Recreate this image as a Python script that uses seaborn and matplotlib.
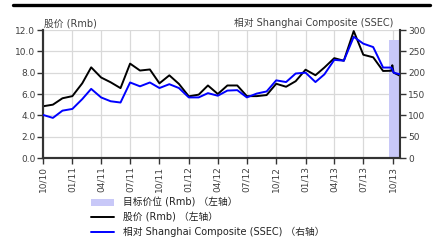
import matplotlib
matplotlib.use("Agg")
import matplotlib.pyplot as plt
import matplotlib.dates as mdates
from matplotlib.patches import Patch
from matplotlib.lines import Line2D
import seaborn as sns
import pandas as pd

# ---- data ----
monthly_dates = list(pd.date_range("2010-10-01", "2013-09-01", freq="MS").strftime("%Y-%m-%d"))
tail_dates = ["2013-09-27", "2013-09-30", "2013-10-04", "2013-10-25"]
dates = monthly_dates + tail_dates

share_price = [4.85, 5.0, 5.6, 5.8, 7.0, 8.5, 7.55, 7.1, 6.55, 8.85, 8.2, 8.3,
               7.0, 7.75, 6.95, 5.78, 5.94, 6.8, 6.0, 6.8, 6.8, 5.8, 5.8, 5.9,
               6.96, 6.68, 7.2, 8.28, 7.76, 8.48, 9.36, 9.12, 11.9, 9.68, 9.44, 8.16,
               8.18, 8.7, 8.0, 7.7]
rel_ssec = [101, 94, 111, 115, 138, 162, 142, 133, 130, 177, 168, 177,
            164, 173, 164, 142, 142, 152, 146, 158, 159, 142, 151, 156,
            182, 178, 198, 200, 178, 196, 230, 228, 284, 268, 260, 212,
            212, 208, 200, 196]

target_dates = ["2013-09-20", "2013-10-25"]
target_price = [11.05, 11.05]

left_ticks = [0.0, 2.0, 4.0, 6.0, 8.0, 10.0, 12.0]
right_ticks = [0, 50, 100, 150, 200, 250, 300]

left_title = "股价 (Rmb)"
right_title = "相对 Shanghai Composite (SSEC)"
legend_labels = ["目标价位 (Rmb) （左轴）", "股价 (Rmb) （左轴）",
                 "相对 Shanghai Composite (SSEC) （右轴）"]

# ---- style ----
sns.set_style("white")
plt.rcParams["font.family"] = ["DejaVu Sans", "Noto Sans CJK SC"]

TXT = "#404040"
SPINE = "#333333"
GRID = "#d9d9d9"
BLUE = "#0000ff"
LAV = "#c8c8f8"

df = pd.DataFrame({"date": pd.to_datetime(dates), "price": share_price, "rel": rel_ssec})

fig = plt.figure(figsize=(4.42, 2.44), dpi=100)
ax = fig.add_axes([43 / 442, 1 - 158 / 244, (400.3 - 43) / 442, 128 / 244])
ax2 = ax.twinx()

td = pd.to_datetime(target_dates)
ax.fill_between(td, 0, target_price, color=LAV, linewidth=0, zorder=1)

sns.lineplot(data=df, x="date", y="price", ax=ax, color="black", linewidth=1.4, zorder=3)
sns.lineplot(data=df, x="date", y="rel", ax=ax2, color=BLUE, linewidth=1.4, zorder=3)

xmin, xmax = pd.Timestamp("2010-10-01"), pd.Timestamp("2013-10-25")
ax.set_xlim(xmin, xmax)
ax.set_ylim(0, 12)
ax2.set_ylim(0, 300)
ax.set_yticks(left_ticks)
ax.set_yticklabels([f"{v:.1f}" for v in left_ticks])
ax2.set_yticks(right_ticks)
ax2.set_yticklabels([str(v) for v in right_ticks])

xt = pd.date_range("2010-10-01", "2013-10-01", freq="3MS")
ax.set_xticks(xt)
ax.set_xticklabels([d.strftime("%m/%y") for d in xt], rotation=90)

ax.set_xlabel("")
ax.set_ylabel("")
ax2.set_xlabel("")
ax2.set_ylabel("")

ax.grid(True, color=GRID, linewidth=0.9, zorder=0)
ax.set_axisbelow(True)
ax2.grid(False)

for a in (ax, ax2):
    a.spines["top"].set_visible(False)
    for s in ("left", "right", "bottom"):
        a.spines[s].set_color(SPINE)
        a.spines[s].set_linewidth(1.5)
ax.spines["right"].set_visible(False)

ax.tick_params(axis="y", direction="out", length=4, width=1, color=SPINE,
               labelsize=6.5, labelcolor=TXT, pad=1.5, left=True)
ax.tick_params(axis="x", direction="out", length=4, width=1, color=SPINE,
               labelsize=6.5, labelcolor=TXT, pad=2, bottom=True)
ax2.tick_params(axis="y", direction="out", length=4, width=1, color=SPINE,
                labelsize=6.5, labelcolor=TXT, pad=1.5, right=True)

fig.text(44 / 442, 1 - 28 / 244, left_title, fontsize=7, color=TXT, ha="left", va="bottom")
fig.text(393 / 442, 1 - 28 / 244, right_title, fontsize=7, color=TXT, ha="right", va="bottom")

# top rule
fig.add_artist(Line2D([13 / 442, 430 / 442], [1 - 4.5 / 244, 1 - 4.5 / 244],
                      color="black", linewidth=2.4, transform=fig.transFigure))

handles = [Patch(facecolor=LAV, edgecolor="none"),
           Line2D([0], [0], color="black", linewidth=1.4),
           Line2D([0], [0], color=BLUE, linewidth=1.4)]
fig.legend(handles, legend_labels, loc="upper left",
           bbox_to_anchor=(86 / 442, 1 - 193 / 244), frameon=False,
           fontsize=7, handlelength=2.4, handleheight=0.6, handletextpad=0.9,
           labelspacing=0.45, borderpad=0, labelcolor="#222222")

fig.savefig("out.png", dpi=100)
